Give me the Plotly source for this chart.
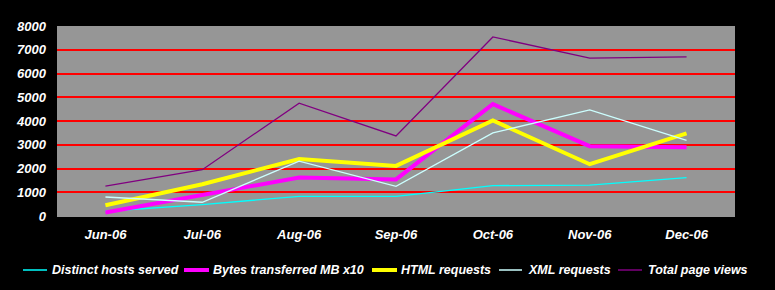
import plotly.graph_objects as go

months = ["Jun-06", "Jul-06", "Aug-06", "Sep-06", "Oct-06", "Nov-06", "Dec-06"]
distinct_hosts = [200, 480, 830, 830, 1280, 1300, 1620]
bytes_mb_x10 = [150, 900, 1620, 1540, 4710, 2940, 2900]
html_requests = [450, 1340, 2400, 2110, 4020, 2180, 3480]
xml_requests = [800, 580, 2310, 1250, 3500, 4470, 3180]
total_page_views = [1260, 1950, 4750, 3370, 7540, 6650, 6700]

series_names = ["Distinct hosts served", "Bytes transferred MB x10", "HTML requests",
                "XML requests", "Total page views"]
series_values = [distinct_hosts, bytes_mb_x10, html_requests, xml_requests, total_page_views]
series_colors = ["#00FFFF", "#FF00FF", "#FFFF00", "#CCFFFF", "#800080"]
series_widths = [1.3, 4, 4, 1.3, 1.3]

W, H = 775, 290
ML, MR, MT, MB = 57, 40, 26, 74
PW, PH = W - ML - MR, H - MT - MB

# legend layout (pixel positions of the sample line start/end and text start)
legend_x = [(23, 47, 50), (184, 209, 211), (372, 397, 399), (499, 522, 526), (618, 642, 646)]
legend_y = 270

def px_x(p):
    return (p - ML) / PW

def px_y(p):
    return (H - MB - p) / PH

font_family = "Liberation Sans, Arial, sans-serif"
lab_font = dict(family=font_family, size=13, color="#FFFFFF", weight="bold", style="italic")

fig = go.Figure()
for name, vals, color, width in zip(series_names, series_values, series_colors, series_widths):
    fig.add_trace(go.Scatter(
        x=months, y=vals, name=name, mode="lines",
        line=dict(color=color, width=width), showlegend=False,
    ))

shapes, annotations = [], []
for name, color, width, (x0, x1, xt) in zip(series_names, series_colors, series_widths, legend_x):
    shapes.append(dict(type="line", xref="paper", yref="paper",
                       x0=px_x(x0), x1=px_x(x1), y0=px_y(legend_y), y1=px_y(legend_y),
                       line=dict(color=color, width=max(width, 1.5))))
    annotations.append(dict(text=name, xref="paper", yref="paper", x=px_x(xt), y=px_y(legend_y),
                            xanchor="left", yanchor="middle", showarrow=False,
                            font=dict(family=font_family, size=12.5, color="#FFFFFF",
                                      weight="bold", style="italic")))

fig.update_layout(
    width=W, height=H,
    paper_bgcolor="#000000",
    plot_bgcolor="#969696",
    margin=dict(l=ML, r=MR, t=MT, b=MB, autoexpand=False),
    font=dict(family=font_family, color="#FFFFFF", size=13, weight="bold", style="italic"),
    showlegend=False,
    shapes=shapes,
    annotations=annotations,
    xaxis=dict(
        type="category", range=[-0.5, 6.5], showgrid=False, zeroline=False,
        showline=False, ticks="", ticklabelstandoff=9, tickfont=lab_font,
    ),
    yaxis=dict(
        range=[0, 8000], tickvals=[0, 1000, 2000, 3000, 4000, 5000, 6000, 7000, 8000],
        ticktext=["0", "1000", "2000", "3000", "4000", "5000", "6000", "7000", "8000"],
        showgrid=True, gridcolor="#FF0000", gridwidth=1.5,
        zeroline=True, zerolinecolor="#969696", showline=False, ticks="",
        ticklabelstandoff=10, tickfont=lab_font,
    ),
)

fig.write_html("out.html")
